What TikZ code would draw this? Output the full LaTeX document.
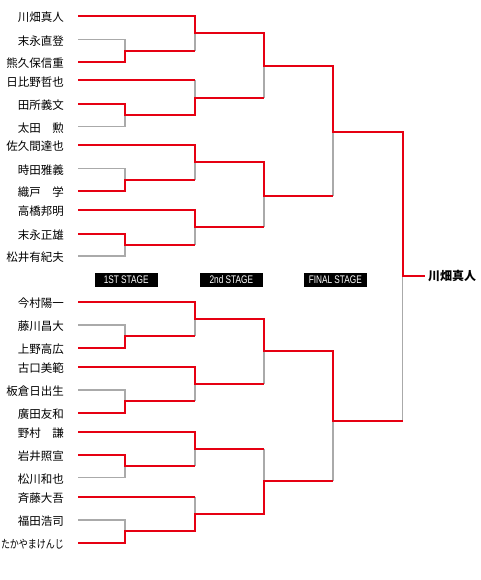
\documentclass[tikz,border=0pt]{standalone}
\usepackage{fontspec}
\newfontfamily\stagefont[FakeStretch=0.75]{Liberation Sans}
\newfontfamily\jp{Noto Sans CJK JP}
\newfontfamily\jpnarrow[FakeStretch=0.78]{Noto Sans CJK JP}
\definecolor{winred}{RGB}{230,0,18}
\definecolor{losegray}{RGB}{170,170,170}

\begin{document}
\begin{tikzpicture}[x=1pt,y=-1pt,
		player/.style={anchor=east,inner sep=0pt,yshift=-1.5pt,font=\jp\fontsize{11.5}{12}\selectfont},
		stage/.style={fill=black,text=white,inner sep=0pt,minimum width=62.7pt,minimum height=14.7pt,font=\stagefont\fontsize{11}{12}\selectfont},
		win/.style={draw=winred,line width=2pt},
		lose/.style={draw=losegray,line width=1.2pt}]
				\useasboundingbox (0,0) rectangle (480,580);

				\node[player] (p1) at (64,16) {川畑真人};
				\node[player] (p2) at (64,39.5) {末永直登};
				\node[player] (p3) at (64,62) {熊久保信重};
				\node[player] (p4) at (64,80.5) {日比野哲也};
				\node[player] (p5) at (64,104) {田所義文};
				\node[player] (p6) at (64,126.5) {太田　勲};
				\node[player] (p7) at (64,145) {佐久間達也};
				\node[player] (p8) at (64,168.5) {時田雅義};
				\node[player] (p9) at (64,191) {織戸　学};
				\node[player] (p10) at (64,210) {高橋邦明};
				\node[player] (p11) at (64,233.5) {末永正雄};
				\node[player] (p12) at (64,256) {松井有紀夫};
				\node[player] (p13) at (64,301.5) {今村陽一};
				\node[player] (p14) at (64,325) {藤川昌大};
				\node[player] (p15) at (64,347.5) {上野高広};
				\node[player] (p16) at (64,366.5) {古口美範};
				\node[player] (p17) at (64,390) {板倉日出生};
				\node[player] (p18) at (64,412.5) {廣田友和};
				\node[player] (p19) at (64,431.5) {野村　謙};
				\node[player] (p20) at (64,455) {岩井照宣};
				\node[player] (p21) at (64,477.5) {松川和也};
				\node[player] (p22) at (64,496.5) {斉藤大吾};
				\node[player] (p23) at (64,520) {福田浩司};
				\node[player,font=\jpnarrow\fontsize{11.5}{12}\selectfont] (p24) at (64,542.5) {たかやまけんじ};
				\foreach \i in {1,...,24} \coordinate (s\i) at ([xshift=14pt,yshift=1.5pt]p\i.east);

				\node[stage] (st1) at (126.2,280) {1ST STAGE};
				\node[stage] (st2) at (231.3,280) {2nd STAGE};
				\node[stage] (st3) at (335.3,280) {FINAL STAGE};
				\node[anchor=west,inner sep=0pt,font=\jp\bfseries\fontsize{12}{13}\selectfont] (w) at (428,276) {川畑真人};

				\coordinate (r1a) at (125,50.75);
				\coordinate (r1b) at (125,115.25);
				\coordinate (r1c) at (125,179.75);
				\coordinate (r1d) at (125,244.75);
				\coordinate (r1e) at (125,336.25);
				\coordinate (r1f) at (125,401.25);
				\coordinate (r1g) at (125,466.25);
				\coordinate (r1h) at (125,531.25);
				\coordinate (r2a) at (195,33.4);
				\coordinate (r2b) at (195,97.9);
				\coordinate (r2c) at (195,162.4);
				\coordinate (r2d) at (195,227.4);
				\coordinate (r2e) at (195,318.9);
				\coordinate (r2f) at (195,383.9);
				\coordinate (r2g) at (195,448.9);
				\coordinate (r2h) at (195,513.9);
				\coordinate (r3a) at (264,66);
				\coordinate (r3b) at (264,195.5);
				\coordinate (r3c) at (264,351.4);
				\coordinate (r3d) at (264,481.4);
				\coordinate (r4a) at (333,132);
				\coordinate (r4b) at (333,421);
				\coordinate (f) at (402.7,276);

				\draw[lose] (s2) -| (r1a) |- (s3);
				\draw[lose] (s5) -| (r1b) |- (s6);
				\draw[lose] (s8) -| (r1c) |- (s9);
				\draw[lose] (s11) -| (r1d) |- (s12);
				\draw[lose] (s14) -| (r1e) |- (s15);
				\draw[lose] (s17) -| (r1f) |- (s18);
				\draw[lose] (s20) -| (r1g) |- (s21);
				\draw[lose] (s23) -| (r1h) |- (s24);
				\draw[lose] (s1 -| r2a) -- (r1a -| r2a);
				\draw[lose] (s4 -| r2b) -- (r1b -| r2b);
				\draw[lose] (s7 -| r2c) -- (r1c -| r2c);
				\draw[lose] (s10 -| r2d) -- (r1d -| r2d);
				\draw[lose] (s13 -| r2e) -- (r1e -| r2e);
				\draw[lose] (s16 -| r2f) -- (r1f -| r2f);
				\draw[lose] (s19 -| r2g) -- (r1g -| r2g);
				\draw[lose] (s22 -| r2h) -- (r1h -| r2h);
				\draw[lose] (r2a -| r3a) -- (r2b -| r3a);
				\draw[lose] (r2c -| r3b) -- (r2d -| r3b);
				\draw[lose] (r2e -| r3c) -- (r2f -| r3c);
				\draw[lose] (r2g -| r3d) -- (r2h -| r3d);
				\draw[lose] (r3a -| r4a) -- (r3b -| r4a);
				\draw[lose] (r3c -| r4b) -- (r3d -| r4b);
				\draw[lose] (r4a -| f) -- (r4b -| f);

				\draw[win] (s1) -| (r2a) -| (r3a) -| (r4a) -| (f) -- ([xshift=-3pt]w.west);
				\draw[win] (s3) -| (r1a) -- (r1a -| r2a);
				\draw[win] (s4) -- (s4 -| r2b);
				\draw[win] (s5) -| (r1b) -| (r2b) -- (r2b -| r3a);
				\draw[win] (s7) -| (r2c) -| (r3b) -- (r3b -| r4a);
				\draw[win] (s9) -| (r1c) -- (r1c -| r2c);
				\draw[win] (s10) -| (r2d) -- (r2d -| r3b);
				\draw[win] (s11) -| (r1d) -- (r1d -| r2d);
				\draw[win] (s13) -| (r2e) -| (r3c) -| (r4b) -- (r4b -| f);
				\draw[win] (s15) -| (r1e) -- (r1e -| r2e);
				\draw[win] (s16) -| (r2f) -- (r2f -| r3c);
				\draw[win] (s18) -| (r1f) -- (r1f -| r2f);
				\draw[win] (s19) -| (r2g) -- (r2g -| r3d);
				\draw[win] (s20) -| (r1g) -- (r1g -| r2g);
				\draw[win] (s22) -- (s22 -| r2h);
				\draw[win] (s24) -| (r1h) -| (r2h) -| (r3d) -- (r3d -| r4b);
			\end{tikzpicture}
\end{document}
